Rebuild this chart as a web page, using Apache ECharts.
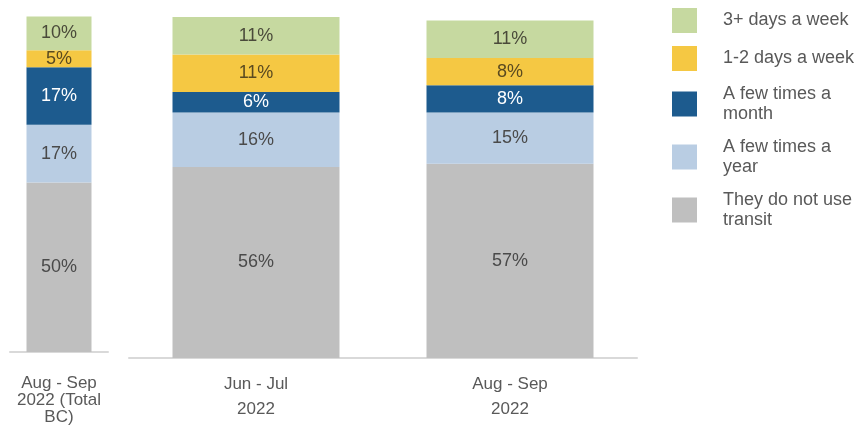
<!DOCTYPE html>
<html>
<head>
<meta charset="utf-8">
<script src="https://cdn.jsdelivr.net/npm/echarts@6/dist/echarts.min.js"></script>
<style>
html,body{margin:0;padding:0;background:#fff;}
#chart{width:861px;height:435px;}
</style>
</head>
<body>
<div id="chart"></div>
<script>
// Categories
var categoriesTotal = ['Aug - Sep\n2022 (Total\nBC)'];
var categoriesPeriods = ['Jun - Jul\n2022', 'Aug - Sep\n2022'];

// Series names (legend order, top to bottom)
var seriesNames = ['3+ days a week', '1-2 days a week', 'A few times a month', 'A few times a year', 'They do not use transit'];

// Values (%) — Total BC bar
var totalThreePlus = [10];
var totalOneTwo = [5];
var totalMonthly = [17];
var totalYearly = [17];
var totalNoTransit = [50];

// Values (%) — Jun-Jul 2022, Aug-Sep 2022
var periodThreePlus = [11, 11];
var periodOneTwo = [11, 8];
var periodMonthly = [6, 8];
var periodYearly = [16, 15];
var periodNoTransit = [56, 57];

var colors = {
  '3+ days a week': '#c6d9a0',
  '1-2 days a week': '#f5c843',
  'A few times a month': '#1d5b8e',
  'A few times a year': '#b9cde3',
  'They do not use transit': '#bfbfbf'
};
var labelColors = {
  '3+ days a week': '#4a4a3a',
  '1-2 days a week': '#5a4a20',
  'A few times a month': '#ffffff',
  'A few times a year': '#4a4a4a',
  'They do not use transit': '#4a4a4a'
};
var legendText = {
  '3+ days a week': '3+ days a week',
  '1-2 days a week': '1-2 days a week',
  'A few times a month': 'A few times a\nmonth',
  'A few times a year': 'A few times a\nyear',
  'They do not use transit': 'They do not use\ntransit'
};

var FONT = '"Liberation Sans", Arial, sans-serif';

// stacking order bottom -> top
var stackOrder = [
  ['They do not use transit', totalNoTransit, periodNoTransit],
  ['A few times a year', totalYearly, periodYearly],
  ['A few times a month', totalMonthly, periodMonthly],
  ['1-2 days a week', totalOneTwo, periodOneTwo],
  ['3+ days a week', totalThreePlus, periodThreePlus]
];

function mkSeries(name, data, idx, stack, width) {
  return {
    name: name,
    type: 'bar',
    stack: stack,
    xAxisIndex: idx,
    yAxisIndex: idx,
    barWidth: width,
    data: data,
    itemStyle: { color: colors[name] },
    label: {
      show: true,
      position: 'inside',
      formatter: '{c}%',
      color: labelColors[name],
      fontSize: 18,
      fontFamily: FONT
    },
    emphasis: { disabled: true },
    animation: false
  };
}

var series = [];
stackOrder.forEach(function (s) {
  series.push(mkSeries(s[0], s[1], 0, 'total', 65));
});
stackOrder.forEach(function (s) {
  series.push(mkSeries(s[0], s[2], 1, 'period', 167));
});

var chart = echarts.init(document.getElementById('chart'), null, { renderer: 'canvas' });
chart.setOption({
  animation: false,
  backgroundColor: '#ffffff',
  legend: {
    data: seriesNames,
    orient: 'vertical',
    left: 672,
    top: 8,
    padding: 0,
    itemWidth: 25,
    itemHeight: 25,
    itemGap: 13,
    icon: 'rect',
    selectedMode: false,
    formatter: function (n) { return legendText[n]; },
    textStyle: { color: '#595959', fontSize: 18, lineHeight: 20, fontFamily: FONT, padding: [0, 0, 0, 21] }
  },
  grid: [
    { left: 10, width: 98, top: 13, height: 339 },
    { left: 129, width: 508, top: 17, height: 341 }
  ],
  xAxis: [
    {
      type: 'category', gridIndex: 0, data: categoriesTotal,
      axisTick: { show: false },
      axisLine: { lineStyle: { color: '#d9d9d9', width: 2 } },
      axisLabel: { color: '#595959', fontSize: 17, lineHeight: 17, margin: 23, fontFamily: FONT, interval: 0 }
    },
    {
      type: 'category', gridIndex: 1, data: categoriesPeriods,
      axisTick: { show: false },
      axisLine: { lineStyle: { color: '#d9d9d9', width: 2 } },
      axisLabel: { color: '#595959', fontSize: 17, lineHeight: 25, margin: 14, fontFamily: FONT, interval: 0 }
    }
  ],
  yAxis: [
    { type: 'value', gridIndex: 0, min: 0, max: 100, show: false },
    { type: 'value', gridIndex: 1, min: 0, max: 100, show: false }
  ],
  series: series
});
</script>
</body>
</html>
